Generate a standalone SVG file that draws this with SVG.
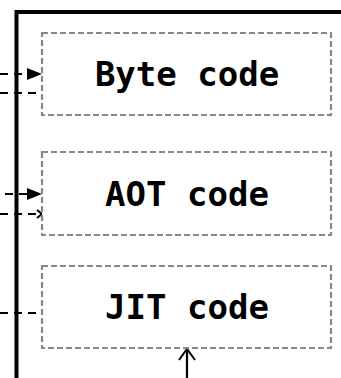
<svg xmlns="http://www.w3.org/2000/svg" width="341" height="378" viewBox="0 0 341 378">
<style>
.box{fill:#fff;stroke:#888;stroke-width:2.2;stroke-dasharray:6 3}
.lbl{font-family:"DejaVu Sans Mono","Liberation Mono",monospace;font-weight:bold;font-size:34px;fill:#000;text-anchor:middle}
.dash{fill:none;stroke:#000;stroke-width:2.2;stroke-dasharray:8 6}
.solid{fill:none;stroke:#000;stroke-width:2.2}
.head{fill:#000}
.openhead{fill:none;stroke:#000;stroke-width:2}
</style>
<g id="container">
<path d="M16.5,378 V12 H341" fill="none" stroke="#000" stroke-width="4"/>
</g>
<g id="connectors">
<path class="dash" d="M0,74 H30"/>
<polygon class="head" points="27,68 42,74 27,80"/>
<path class="dash" d="M0,93 H42"/>
<path class="dash" d="M0,194 H30" stroke-dashoffset="-5"/>
<polygon class="head" points="27,188 42,194 27,200"/>
<path class="dash" d="M0,214 H42"/>
<path class="openhead" d="M37,210 L42,214 L37,218"/>
<path class="dash" d="M0,313 H42"/>
<path class="solid" d="M187,378 V350"/>
<path class="openhead" d="M179,360 L187,349 L195,360"/>
</g>
<g id="byte">
<rect class="box" x="42" y="33" width="289" height="82"/>
<text class="lbl" x="187" y="86">Byte code</text>
</g>
<g id="aot">
<rect class="box" x="42" y="152" width="289" height="83"/>
<text class="lbl" x="187" y="206">AOT code</text>
</g>
<g id="jit">
<rect class="box" x="42" y="266" width="289" height="82"/>
<text class="lbl" x="187" y="319">JIT code</text>
</g>
</svg>
